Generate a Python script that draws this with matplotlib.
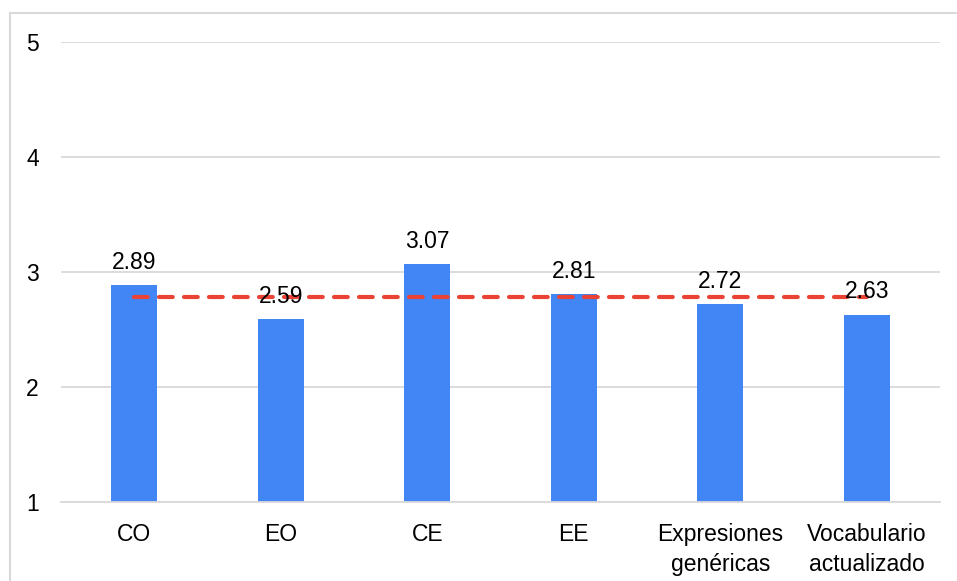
import matplotlib.pyplot as plt
from matplotlib.lines import Line2D

categories = ['CO', 'EO', 'CE', 'EE', 'Expresiones\ngenéricas', 'Vocabulario\nactualizado']
scores = [2.89, 2.59, 3.07, 2.81, 2.72, 2.63]
score_labels = ['2.89', '2.59', '3.07', '2.81', '2.72', '2.63']
mean_score = sum(scores) / len(scores)

plt.rcParams['font.family'] = ['Liberation Sans', 'DejaVu Sans']

W, H = 957, 581
fig = plt.figure(figsize=(W / 100, H / 100), dpi=100)
ax = fig.add_axes([61 / W, 1 - 502 / H, (940 - 61) / W, (502 - 42) / H])

x = list(range(len(categories)))
ax.bar(x, [s - 1 for s in scores], bottom=1, width=0.315, color='#4285F4', zorder=2)

# average line, from first to last bar centre
ax.plot([x[0], x[-1]], [mean_score, mean_score], color='#EA4335', lw=3,
        linestyle=(0, (3.3, 2.7)), solid_capstyle='round', dash_capstyle='round', zorder=3)

for xi, s, lab in zip(x, scores, score_labels):
    ax.annotate(lab, (xi, s), xytext=(0, 8), textcoords='offset points',
                ha='center', va='bottom', fontsize=16.5, color='black', zorder=4)

ax.set_xlim(-0.5, len(categories) - 0.5)
ax.set_ylim(1, 5)
ax.set_yticks([1, 2, 3, 4, 5])
ax.set_xticks(x)
ax.set_xticklabels(categories, fontsize=16.5, linespacing=1.4)
ax.tick_params(axis='y', labelsize=16.5, length=0, pad=16)
ax.tick_params(axis='x', length=0, pad=15)
ax.grid(axis='y', color='#D9D9D9', lw=1.3, zorder=0)
for sp in ['top', 'right', 'left']:
    ax.spines[sp].set_visible(False)
ax.spines['bottom'].set_color('#D9D9D9')
ax.spines['bottom'].set_linewidth(1.3)

# outer frame (top and left only visible)
fig.add_artist(Line2D([10 / W, 1], [1 - 13 / H, 1 - 13 / H], color='#D9D9D9', lw=1.5))
fig.add_artist(Line2D([10 / W, 10 / W], [0, 1 - 13 / H], color='#D9D9D9', lw=1.5))

fig.savefig('out.png', dpi=100)
